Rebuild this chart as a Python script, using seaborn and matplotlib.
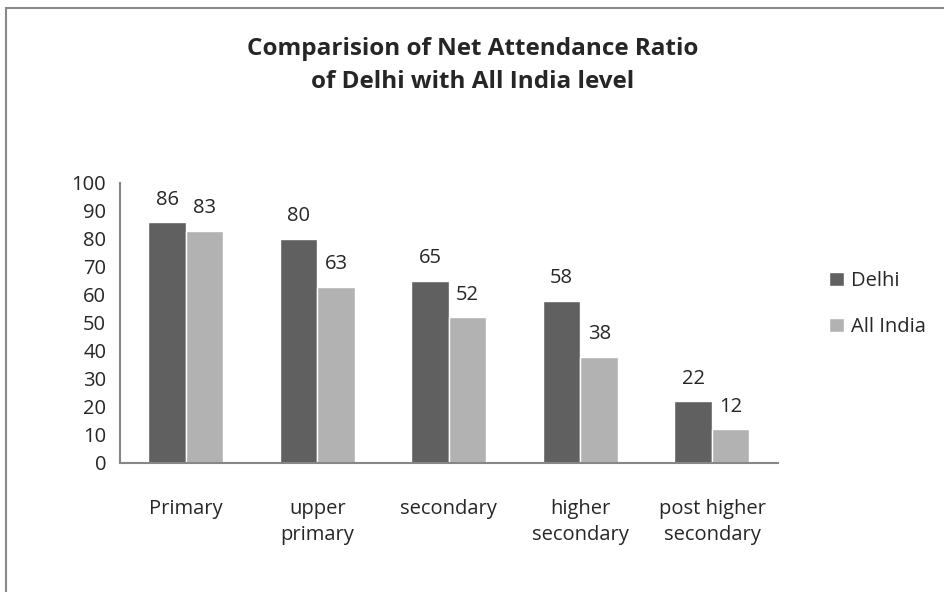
import pandas as pd
import matplotlib
matplotlib.use("Agg")
import matplotlib.pyplot as plt
import seaborn as sns
from matplotlib.patches import Rectangle

# data
levels = ["Primary", "upper\nprimary", "secondary", "higher\nsecondary", "post higher\nsecondary"]
delhi = [86, 80, 65, 58, 22]
all_india = [83, 63, 52, 38, 12]

df = pd.DataFrame({
    "level": levels * 2,
    "value": delhi + all_india,
    "region": ["Delhi"] * len(levels) + ["All India"] * len(levels),
})

sns.set_style("white")
plt.rcParams["font.family"] = ["Open Sans", "DejaVu Sans"]

fig = plt.figure(figsize=(9.45, 5.92), dpi=100)
ax = fig.add_axes([0.127, 0.218, 0.696, 0.473])

sns.barplot(data=df, x="level", y="value", hue="region",
            palette=["#606060", "#b2b2b2"], width=0.57, saturation=1,
            ax=ax, legend=True)

for cont in ax.containers:
    ax.bar_label(cont, fontsize=14.5, padding=9)

ax.set_ylim(0, 100)
ax.set_yticks(range(0, 101, 10))
ax.set_xlim(-0.5, 4.5)
ax.set_xticks([x - 0.5 for x in range(6)], minor=False)
ax.set_xticklabels([])
ax.set_xticks(range(5), minor=True)
ax.set_xticklabels(levels, minor=True, fontsize=14.5, linespacing=1.4)
ax.tick_params(axis="x", which="minor", length=0, pad=26)
ax.tick_params(axis="x", which="major", length=6, color="#868686", direction="out")
ax.tick_params(axis="y", length=6, color="#868686", direction="out", labelsize=14.5, pad=4)
ax.set_xlabel("")
ax.set_ylabel("")

for side in ["top", "right"]:
    ax.spines[side].set_visible(False)
for side in ["left", "bottom"]:
    ax.spines[side].set_color("#868686")
    ax.spines[side].set_linewidth(1.5)

leg = ax.legend(loc="center left", bbox_to_anchor=(1.051, 0.568), frameon=False,
                fontsize=14.5, handlelength=0.7, handleheight=0.7,
                handletextpad=0.35, labelspacing=1.3)

fig.suptitle("Comparision of Net Attendance Ratio\nof Delhi with All India level",
             fontsize=17.5, fontweight="bold", y=0.938, linespacing=1.5)

# outer chart border
fig.patches.append(Rectangle((0.006, -0.01), 1.0, 0.997, transform=fig.transFigure,
                             fill=False, edgecolor="#898989", linewidth=1.5))

fig.savefig("out.png", dpi=100)
